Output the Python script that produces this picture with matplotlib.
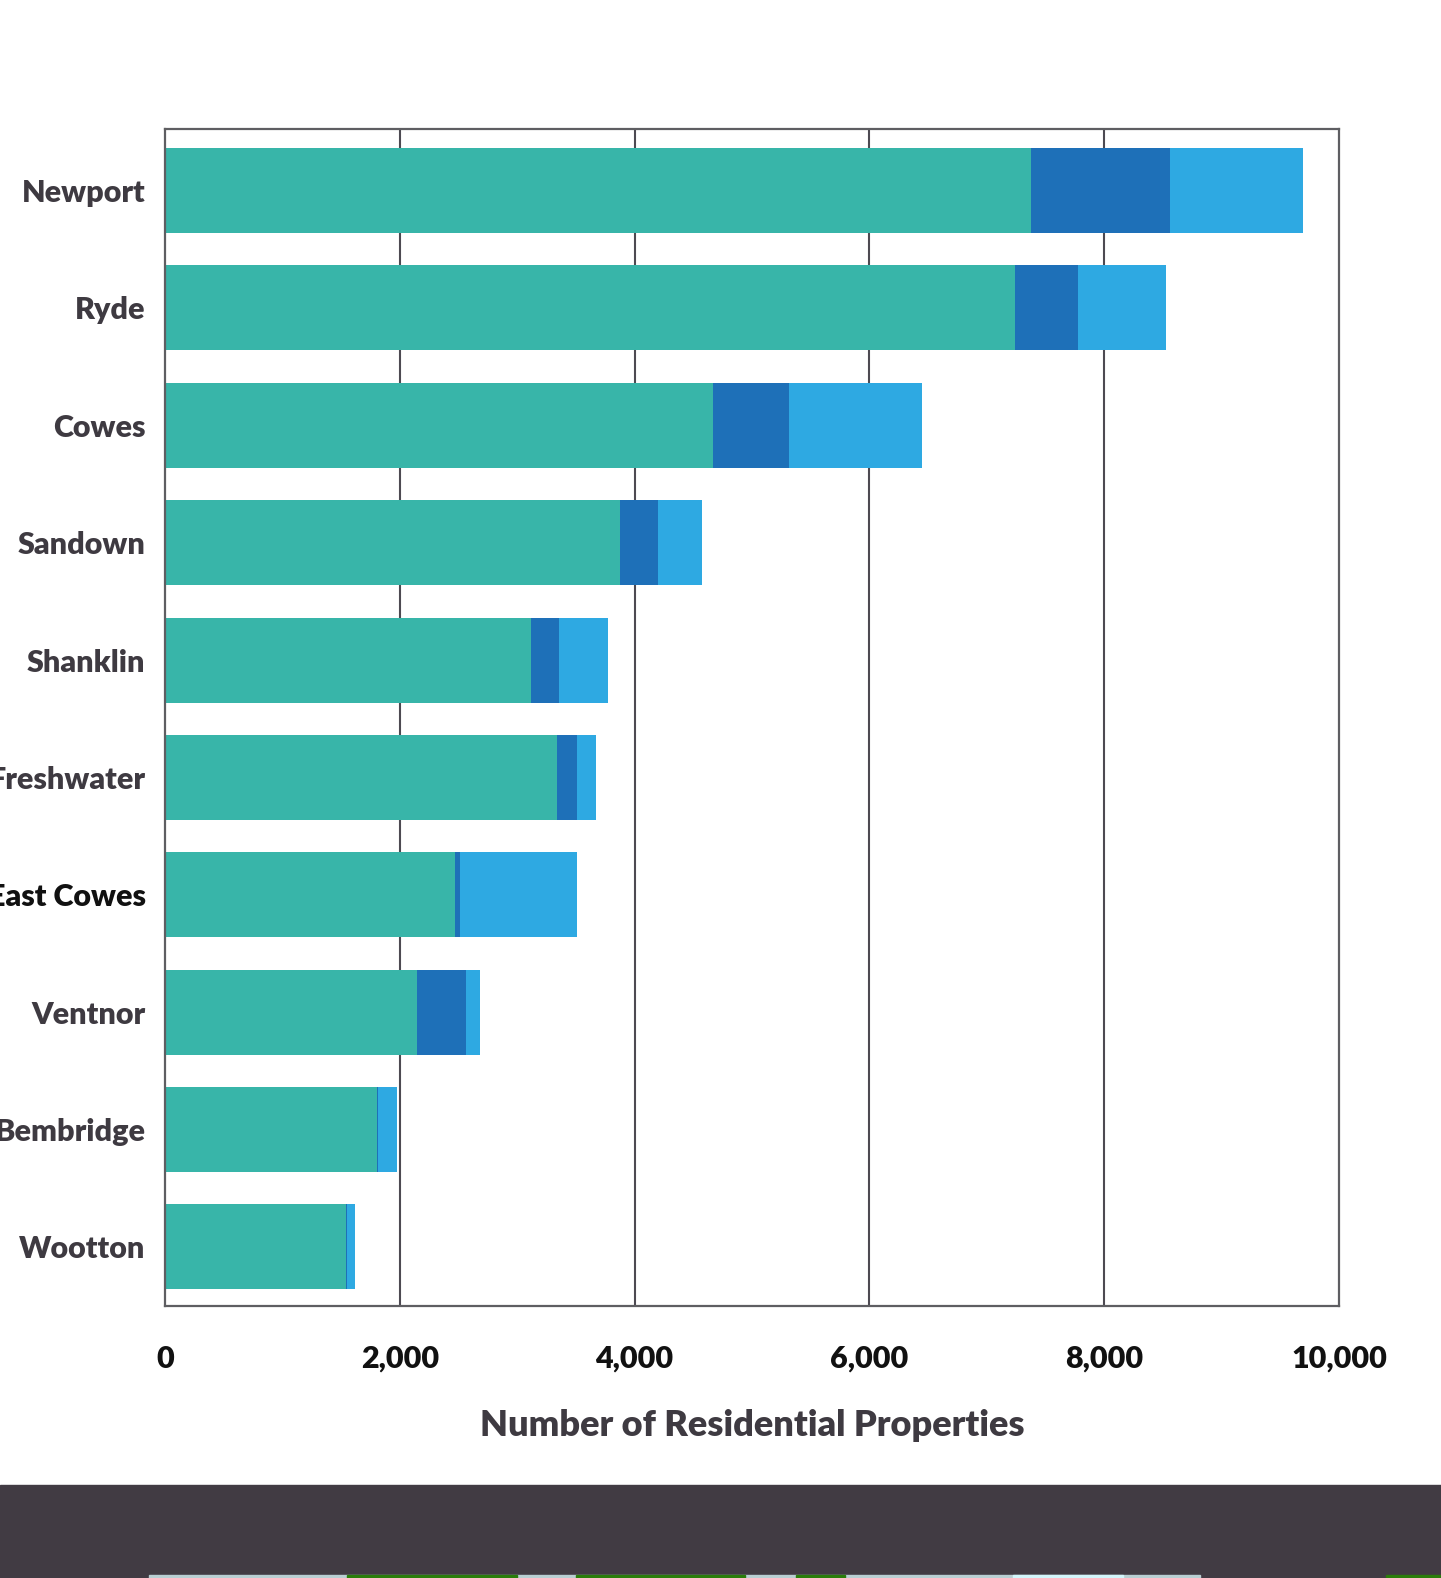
import matplotlib
matplotlib.use("Agg")
import matplotlib.pyplot as plt
from matplotlib.patches import Rectangle

towns = ["Newport", "Ryde", "Cowes", "Sandown", "Shanklin", "Freshwater",
         "East Cowes", "Ventnor", "Bembridge", "Wootton"]
seg1 = [7376, 7240, 4668, 3876, 3118, 3339, 2470, 2146, 1809, 1542]
seg2 = [1184, 537, 647, 323, 238, 170, 43, 418, 8, 8]
seg3 = [1131, 749, 1133, 375, 417, 162, 996, 119, 162, 70]
xticks = [0, 2000, 4000, 6000, 8000, 10000]
xticklabels = ["0", "2,000", "4,000", "6,000", "8,000", "10,000"]
xlabel = "Number of Residential Properties"

colors = ["#38b5a9", "#1e70b8", "#2ea9e2"]
label_color = "#3e3a41"

plt.rcParams['font.family'] = ['Lato', 'DejaVu Sans']

fig = plt.figure(figsize=(14.41, 15.78), dpi=100)
ax = fig.add_axes([0.1145, 0.17237, 0.8147, 0.74588])

ypos = list(range(len(towns)))
h = 0.724
left2 = [a for a in seg1]
left3 = [a + b for a, b in zip(seg1, seg2)]
ax.barh(ypos, seg1, height=h, color=colors[0], zorder=2)
ax.barh(ypos, seg2, left=left2, height=h, color=colors[1], zorder=2)
ax.barh(ypos, seg3, left=left3, height=h, color=colors[2], zorder=2)

ax.set_xlim(0, 10000)
ax.set_ylim(9.503, -0.524)
ax.set_xticks(xticks)
ax.set_xticklabels(xticklabels)
ax.set_yticks(ypos)
ax.set_yticklabels(towns)

for x in xticks[1:-1]:
    ax.axvline(x, color="#4d4a52", lw=1.5, zorder=1)

for side, sp in ax.spines.items():
    sp.set_linewidth(1.6)
    sp.set_color("#5e5e62")

ax.tick_params(axis='both', length=0)
ax.tick_params(axis='x', pad=28, labelsize=22, labelcolor="#111111")
ax.tick_params(axis='y', pad=14, labelsize=22, labelcolor=label_color)
for lab in ax.get_xticklabels():
    lab.set_fontweight('heavy')
for lab in ax.get_yticklabels():
    lab.set_fontweight('heavy')
    if lab.get_text() == "East Cowes":
        lab.set_color("#111111")

ax.set_xlabel(xlabel, fontsize=26, fontweight='heavy', color=label_color, labelpad=26)

# footer band
fig.patches.append(Rectangle((0, 0), 1, 93 / 1578, transform=fig.transFigure,
                             color="#413b43", zorder=0))
strip_h = 3 / 1578
strip = [(149, 1200, "#b9cfd2"), (347, 517, "#2a7d0a"), (576, 745, "#2a7d0a"),
         (796, 845, "#2a7d0a"), (1013, 1123, "#d3f6fb"), (1386, 1441, "#2a7d0a")]
for x0, x1, c in strip:
    fig.patches.append(Rectangle((x0 / 1441, 0), (x1 - x0) / 1441, strip_h,
                                 transform=fig.transFigure, color=c, zorder=1))

fig.savefig("out.png", dpi=100)
